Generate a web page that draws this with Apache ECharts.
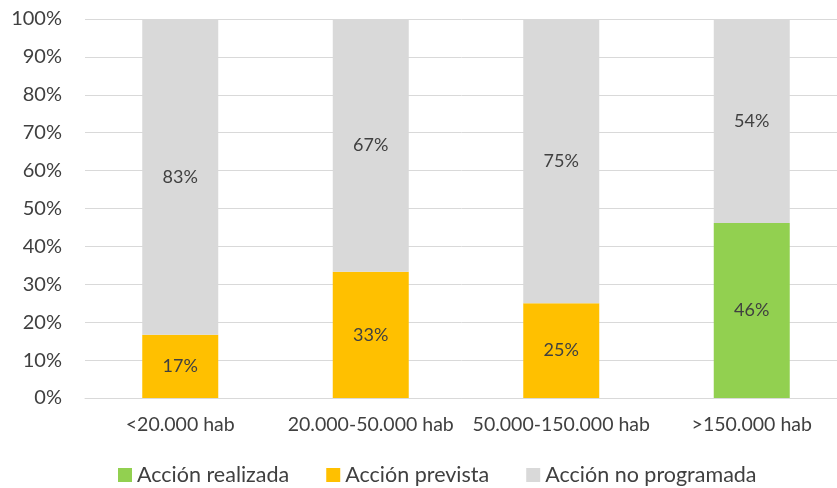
<!DOCTYPE html>
<html><head><meta charset="utf-8">
<script src="https://cdn.jsdelivr.net/npm/echarts@6/dist/echarts.min.js"></script>
<style>html,body{margin:0;padding:0;background:#fff}#c{width:837px;height:488px}</style>
</head><body><div id="c"></div>
<script>
const categories = ['<20.000 hab', '20.000-50.000 hab', '50.000-150.000 hab', '>150.000 hab'];
const realizada = [0, 0, 0, 46.2];
const prevista = [16.7, 33.3, 25, 0];
const noProgramada = [83.3, 66.7, 75, 53.8];
const seriesNames = ['Acción realizada', 'Acción prevista', 'Acción no programada'];
const colors = ['#92D050', '#FFC000', '#D9D9D9'];
const FONT = 'Lato';
const txt = '#404040';
function lbl(p){ return p.value > 0 ? Math.round(p.value) + '%' : ''; }
const chart = echarts.init(document.getElementById('c'));
const mk = (name, data, color) => ({
  name, type: 'bar', stack: 'a', data, barWidth: 76,
  itemStyle: { color },
  label: { show: true, position: 'inside', formatter: lbl, color: txt, fontFamily: FONT, fontSize: 18 }
});
chart.setOption({
  animation: false,
  textStyle: { fontFamily: FONT },
  grid: { left: 85, top: 19, right: -10, height: 379, containLabel: false, outerBoundsMode: 'none' },
  xAxis: { type: 'category', data: categories,
    axisLine: { lineStyle: { color: '#D9D9D9', width: 1 } }, axisTick: { show: false },
    axisLabel: { interval: 0, color: txt, fontFamily: FONT, fontSize: 19.5, margin: 17 } },
  yAxis: { type: 'value', min: 0, max: 100, interval: 10,
    axisLabel: { formatter: '{value}%', color: txt, fontFamily: FONT, fontSize: 20, margin: 23 },
    splitLine: { lineStyle: { color: '#D9D9D9', width: 1 } }, axisLine: { show: false } },
  legend: { top: 459, left: 113, itemWidth: 14, itemHeight: 14, itemGap: 37, icon: 'rect',
    textStyle: { color: txt, fontFamily: FONT, fontSize: 21.5 }, data: seriesNames },
  series: [mk(seriesNames[0], realizada, colors[0]), mk(seriesNames[1], prevista, colors[1]), mk(seriesNames[2], noProgramada, colors[2])]
});
</script></body></html>
